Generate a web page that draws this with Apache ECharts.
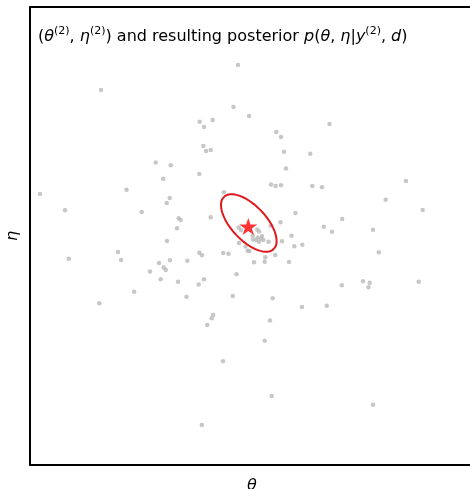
<!DOCTYPE html>
<html>
<head>
<meta charset="utf-8">
<script src="https://cdn.jsdelivr.net/npm/echarts@6/dist/echarts.min.js"></script>
<style>html,body{margin:0;padding:0;background:#fff}#c{width:470px;height:489px}</style>
</head>
<body>
<div id="c"></div>
<script>
// Sampled prior draws (theta^(2), eta^(2)) — arbitrary units, centred on plot
const theta = [-14, -151, -18.5, -3, -52.3, -48, -39.3, 77.5, 24.3, 29, -48.7, -46, -41.3, 32, 58.3, -96.3, -81.3, -52.7, -88.8, 34, 19, 23.5, 29, 60.3, 70, 154, -212, -125.5, -187, -28, -82.3, -85.3, -110.3, 133.7, 170.7, 43.5, -41.3, -73.3, -71.3, 90.2, -75, 28.5, 71.8, 80, 121, 39.5, -85, 30, 16.5, 42.3, 50.3, -13, -134, -131, -183.2, -52.7, -50, -28.8, -23.5, -6.5, -2.7, 126.8, 23.2, 13.3, -93, -82, -64.7, -88.3, -86.2, -102, 2, 12.7, 37, -15.5, -91.3, -48, -74, -53.3, 111, 117.7, 116.5, 89.8, 166.7, -117.8, -65.5, -19.3, 20.7, -152.7, 50, 74.7, -38.8, -40.3, 18, -44.8, 12.7, -29, 19.7, 121, -50.2, -13.3, -11, 5.3, 7, 0.7, 10, 5.7, 9, 4, 1, 11.3, 7, 18.7, -4.3];
const eta = [171, 146, 129, 120, 114.3, 109, 116, 112, 104, 99, 90, 85, 86, 84.3, 82.3, 73.5, 70.7, 62, 57.3, 67.5, 51.5, 50, 50.8, 50, 48.8, 55, 42, 46.3, 25.7, 43.7, 38, 33, 24, 36.3, 26, 23, 18.7, 17.7, 16, 17, 7.7, 13.7, 9.3, 4.3, 6.3, 0.3, -5, -5.2, -5.7, -10.3, -8.7, -7, -16, -24, -22.7, -16.8, -19.2, -17, -17.7, -10.5, -15, -16.3, -19, -21.3, -27, -24.2, -24.8, -31.5, -34, -35.5, -26.3, -25.7, -26, -38.3, -43.3, -43.2, -45.7, -48.5, -45.3, -46.8, -51.3, -49.2, -45.7, -55.7, -60.8, -60, -62.2, -67.3, -71, -69.7, -79, -82.2, -84.5, -89, -104.7, -125.2, -160, -168.7, -189, 8.5, 6, 6.5, 4.5, 0.2, 0, -1.5, -2.7, -4, -3.5, -4, -5.7, 10.3, -14.7];

// True parameter (star)
const trueTheta = [-3.7];
const trueEta = [9.5];

// Posterior summary: mean and covariance (defines the credible ellipse)
const postMean = [-3.2, 13];
const postCov = [[773, -500], [-500, 829]];

// Axis ranges and labels
const thetaRange = [-222, 222];
const etaRange = [-229, 229];
const xLabel = 'θ';
const yLabel = 'η';

const scatterData = [];
for (let i = 0; i < Math.min(theta.length, eta.length); i++) scatterData.push([theta[i], eta[i]]);

// 1-sigma contour of posterior via Cholesky factor of covariance
const L11 = Math.sqrt(postCov[0][0]);
const L21 = postCov[1][0] / L11;
const L22 = Math.sqrt(postCov[1][1] - L21 * L21);
const ellipse = [];
const N = 160;
for (let k = 0; k <= N; k++) {
  const t = 2 * Math.PI * k / N;
  const u = Math.cos(t), v = Math.sin(t);
  ellipse.push([postMean[0] + L11 * u, postMean[1] + L21 * u + L22 * v]);
}

const starPath = 'path://M50,0 L61.8,35.1 L98.9,35.1 L69,56.7 L80.9,91.9 L50,70 L19.1,91.9 L31,56.7 L1.1,35.1 L38.2,35.1 Z';

const F = 'DejaVu Sans';
const chart = echarts.init(document.getElementById('c'), null, {renderer: 'canvas'});
chart.setOption({
  animation: false,
  backgroundColor: '#fff',
  title: {
    left: 33, top: 21,
    text: '{n|(}{i|θ}{s|(2)}{n|, }{i|η}{s|(2)}{n|) and resulting posterior }{i|p}{n|(}{i|θ}{n|, }{i|η}{n||}{i|y}{s|(2)}{n|, }{i|d}{n|)}',
    textStyle: {
      fontWeight: 'normal',
      rich: {
        n: {fontFamily: F, fontSize: 16, fontWeight: 'normal', color: '#000', lineHeight: 19, verticalAlign: 'bottom'},
        i: {fontFamily: F, fontSize: 16, fontWeight: 'normal', fontStyle: 'italic', color: '#000', lineHeight: 19, verticalAlign: 'bottom'},
        s: {fontFamily: F, fontSize: 11, fontWeight: 'normal', color: '#000', lineHeight: 19, verticalAlign: 'top'}
      }
    }
  },
  grid: {left: 30, top: 7, width: 444, height: 458, show: true, borderColor: '#000', borderWidth: 2,
         backgroundColor: 'transparent', containLabel: false, outerBoundsMode: 'none'},
  xAxis: {
    type: 'value', min: thetaRange[0], max: thetaRange[1],
    name: xLabel, nameLocation: 'middle', nameGap: 13,
    nameTextStyle: {fontFamily: F, fontSize: 16, fontStyle: 'italic', color: '#000'},
    axisLine: {show: false}, axisTick: {show: false}, axisLabel: {show: false}, splitLine: {show: false}
  },
  yAxis: {
    type: 'value', min: etaRange[0], max: etaRange[1],
    name: yLabel, nameLocation: 'middle', nameGap: 9, nameRotate: 90,
    nameTextStyle: {fontFamily: F, fontSize: 16, fontStyle: 'italic', color: '#000'},
    axisLine: {show: false}, axisTick: {show: false}, axisLabel: {show: false}, splitLine: {show: false}
  },
  series: [
    {
      type: 'scatter', data: scatterData, symbol: 'circle', symbolSize: 4.5,
      itemStyle: {color: '#b9b9b9'}, z: 2
    },
    {
      type: 'line', data: ellipse, showSymbol: false, smooth: false,
      lineStyle: {color: '#e0191c', width: 2}, z: 3
    },
    {
      type: 'scatter', data: trueTheta.map((t, i) => [t, trueEta[i]]),
      symbol: starPath, symbolSize: [18, 17], itemStyle: {color: '#ff0000'}, z: 4
    }
  ]
});
</script>
</body>
</html>
